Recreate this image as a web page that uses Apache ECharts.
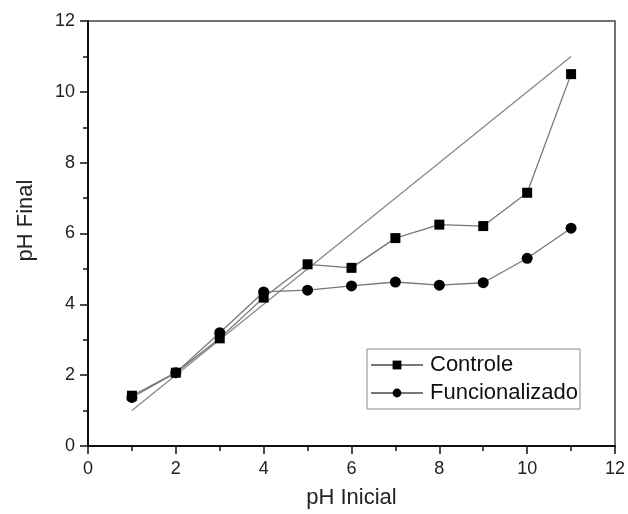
<!DOCTYPE html>
<html>
<head>
<meta charset="utf-8">
<script src="https://cdn.jsdelivr.net/npm/echarts@6/dist/echarts.min.js"></script>
<style>
  html, body { margin: 0; padding: 0; background: #fff; }
  #chart { width: 628px; height: 514px; }
</style>
</head>
<body>
<div id="chart"></div>
<script>
  // pH inicial (x) e pH final (y)
  var phInicial = [1, 2, 3, 4, 5, 6, 7, 8, 9, 10, 11]
  var controle = [1.42, 2.07, 3.04, 4.19, 5.13, 5.03, 5.87, 6.25, 6.21, 7.15, 10.5]
  var funcionalizado = [1.37, 2.07, 3.2, 4.35, 4.4, 4.52, 4.63, 4.54, 4.61, 5.3, 6.15]
  var referencia = [1, 11]

  function pares(xs, ys) {
    return xs.map(function (x, i) { return [x, ys[i]] })
  }

  var chart = echarts.init(document.getElementById('chart'))
  var fonte = '"Liberation Sans", Arial, sans-serif'

  chart.setOption({
    animation: false,
    backgroundColor: '#fff',
    grid: {
      left: 88,
      right: 12,
      top: 21,
      bottom: 67,
      show: true,
      borderColor: '#444',
      borderWidth: 1.5
    },
    legend: {
      data: ['Controle', 'Funcionalizado'],
      orient: 'vertical',
      left: 367,
      top: 349,
      itemWidth: 52,
      itemHeight: 11,
      itemGap: 6,
      padding: [5, 2, 5, 3],
      borderColor: '#888',
      borderWidth: 1,
      textStyle: { fontFamily: fonte, fontSize: 22, color: '#111', padding: [0, 0, 0, 2] }
    },
    xAxis: {
      type: 'value',
      min: 0,
      max: 12,
      interval: 2,
      name: 'pH Inicial',
      nameLocation: 'middle',
      nameGap: 41,
      nameTextStyle: { fontFamily: fonte, fontSize: 22, color: '#222' },
      axisLine: { onZero: false, lineStyle: { color: '#111', width: 2 } },
      axisTick: { inside: false, length: 8, lineStyle: { color: '#111', width: 1.5 } },
      minorTick: { show: true, splitNumber: 2, length: 5, lineStyle: { color: '#111', width: 1.5 } },
      axisLabel: { fontFamily: fonte, fontSize: 18, color: '#222', margin: 14 },
      splitLine: { show: false }
    },
    yAxis: {
      type: 'value',
      min: 0,
      max: 12,
      interval: 2,
      name: 'pH Final',
      nameLocation: 'middle',
      nameGap: 51,
      nameTextStyle: { fontFamily: fonte, fontSize: 22, color: '#222', padding: [0, 0, 0, 26] },
      axisLine: { onZero: false, lineStyle: { color: '#111', width: 2 } },
      axisTick: { inside: false, length: 8, lineStyle: { color: '#111', width: 1.5 } },
      minorTick: { show: true, splitNumber: 2, length: 5, lineStyle: { color: '#111', width: 1.5 } },
      axisLabel: { fontFamily: fonte, fontSize: 18, color: '#222', margin: 13 },
      splitLine: { show: false }
    },
    series: [
      {
        name: 'referencia',
        type: 'line',
        data: pares(referencia, referencia),
        showSymbol: false,
        silent: true,
        lineStyle: { color: '#888', width: 1.3 }
      },
      {
        name: 'Controle',
        type: 'line',
        data: pares(phInicial, controle),
        symbol: 'rect',
        symbolSize: 10,
        itemStyle: { color: '#000' },
        lineStyle: { color: '#777', width: 1.3 }
      },
      {
        name: 'Funcionalizado',
        type: 'line',
        data: pares(phInicial, funcionalizado),
        symbol: 'circle',
        symbolSize: 11,
        itemStyle: { color: '#000' },
        lineStyle: { color: '#777', width: 1.3 }
      }
    ]
  })
</script>
</body>
</html>
